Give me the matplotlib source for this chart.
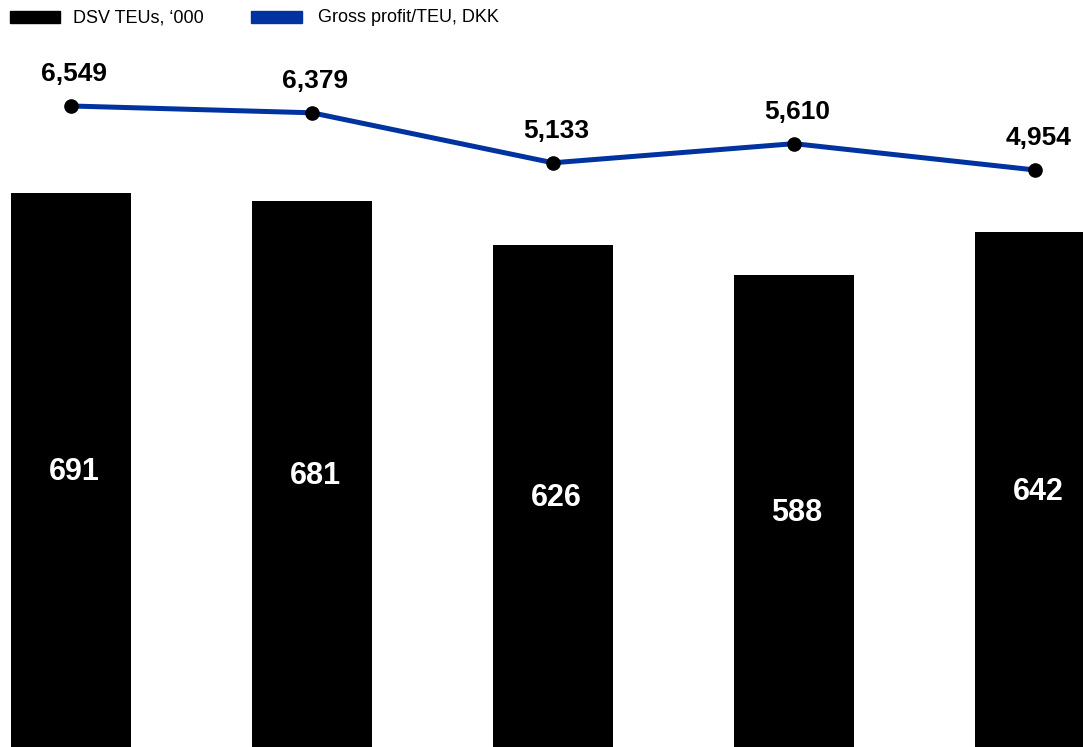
import matplotlib.pyplot as plt
import matplotlib.patches as mpatches

plt.rcParams['font.family'] = ['Liberation Sans', 'DejaVu Sans']

# --- data ---
teus = [691, 681, 626, 588, 642]
gp_per_teu = [6549, 6379, 5133, 5610, 4954]
bar_labels = ["691", "681", "626", "588", "642"]
line_labels = ["6,549", "6,379", "5,133", "5,610", "4,954"]

black = "#000000"
blue = "#0033A0"

fig = plt.figure(figsize=(10.83, 7.47), dpi=100)
ax = fig.add_axes([0, 0, 1, 1])
x = list(range(len(teus)))

# --- bars ---
ax.bar(x, teus, width=0.498, color=black)
for xi, v, lab in zip(x, teus, bar_labels):
    ax.annotate(lab, (xi, v / 2), xytext=(2.2, -1.5), textcoords="offset points",
                color="white", fontsize=22, fontweight="bold",
                ha="center", va="center")
ax.set_xlim(-0.2946, 4.199)
ax.set_ylim(0, 931.4)
ax.axis("off")

# --- line on secondary axis ---
ax2 = ax.twinx()
ax2.plot(x, gp_per_teu, color=blue, lw=3.6, zorder=2)
ax2.plot(x, gp_per_teu, "o", color=black, ms=9.5, zorder=3)
for xi, v, lab in zip(x, gp_per_teu, line_labels):
    ax2.annotate(lab, (xi, v), xytext=(2.2, 18), textcoords="offset points",
                 ha="center", va="baseline", fontsize=19, fontweight="bold")
ax2.set_ylim(-9426, 9190)
ax2.set_xlim(-0.2946, 4.199)
ax2.axis("off")

# --- legend drawn manually at the top ---
H = 747.0
W = 1083.0
fig.patches.append(mpatches.Rectangle((10 / W, 1 - 23 / H), 50 / W, 12 / H,
                                      transform=fig.transFigure, color=black))
fig.text(73 / W, 1 - 18 / H, "DSV TEUs, \u2018000", fontsize=13, va="center")
fig.patches.append(mpatches.Rectangle((251 / W, 1 - 23 / H), 51 / W, 12 / H,
                                      transform=fig.transFigure, color=blue))
fig.text(318 / W, 1 - 18 / H, "Gross profit/TEU, DKK", fontsize=13, va="center")

fig.savefig("out.png", dpi=100)
